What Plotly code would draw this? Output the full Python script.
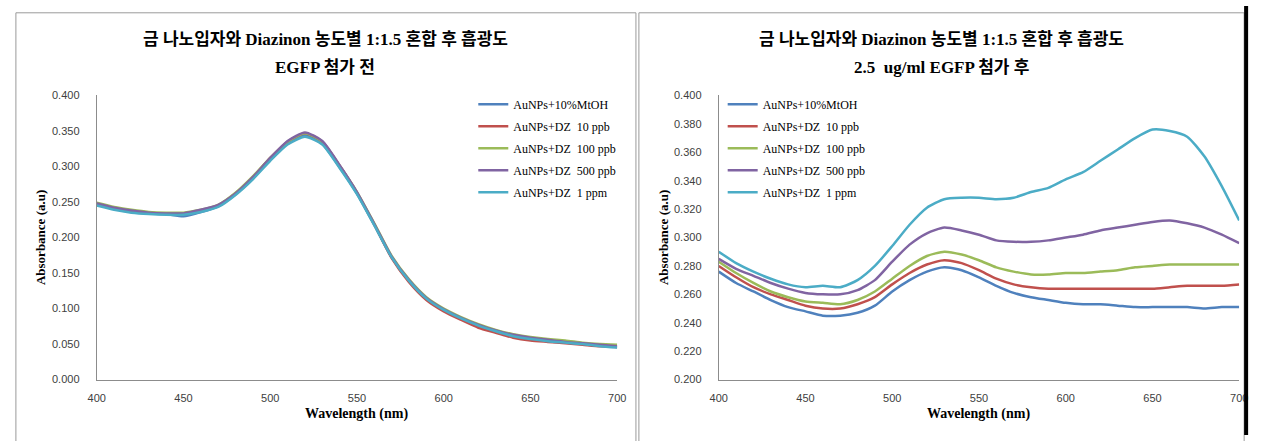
import plotly.graph_objects as go

W, H = 1263, 441

# Wavelength grid (nm)
wavelength = list(range(400, 701, 10))

series_names = [
    "AuNPs+10%MtOH",
    "AuNPs+DZ  10 ppb",
    "AuNPs+DZ  100 ppb",
    "AuNPs+DZ  500 ppb",
    "AuNPs+DZ  1 ppm",
]
series_colors = ["#4F81BD", "#C0504D", "#9BBB59", "#8064A2", "#4BACC6"]

# Absorbance before EGFP addition
before_mtoh = [0.246, 0.240, 0.236, 0.234, 0.233, 0.230, 0.236, 0.244, 0.261, 0.283, 0.310,
               0.333, 0.344, 0.332, 0.299, 0.262, 0.218, 0.172, 0.139, 0.114, 0.098,
               0.086, 0.076, 0.068, 0.061, 0.057, 0.054, 0.052, 0.050, 0.048, 0.046]
before_10ppb = [0.247, 0.241, 0.237, 0.235, 0.234, 0.234, 0.238, 0.245, 0.262, 0.285, 0.312,
                0.335, 0.347, 0.335, 0.301, 0.263, 0.218, 0.171, 0.137, 0.112, 0.096,
                0.084, 0.073, 0.066, 0.059, 0.055, 0.053, 0.051, 0.049, 0.047, 0.046]
before_100ppb = [0.249, 0.243, 0.239, 0.236, 0.235, 0.235, 0.239, 0.246, 0.263, 0.286, 0.312,
                 0.335, 0.347, 0.335, 0.301, 0.264, 0.220, 0.174, 0.141, 0.116, 0.100,
                 0.088, 0.078, 0.070, 0.064, 0.060, 0.057, 0.055, 0.052, 0.050, 0.049]
before_500ppb = [0.248, 0.242, 0.238, 0.235, 0.234, 0.234, 0.239, 0.246, 0.262, 0.285, 0.312,
                 0.336, 0.348, 0.336, 0.302, 0.264, 0.219, 0.173, 0.140, 0.115, 0.099,
                 0.087, 0.077, 0.069, 0.063, 0.059, 0.056, 0.053, 0.051, 0.049, 0.047]
before_1ppm = [0.245, 0.239, 0.235, 0.233, 0.232, 0.232, 0.236, 0.243, 0.260, 0.282, 0.308,
               0.331, 0.342, 0.331, 0.298, 0.261, 0.217, 0.172, 0.139, 0.114, 0.098,
               0.086, 0.076, 0.068, 0.061, 0.057, 0.054, 0.052, 0.050, 0.047, 0.045]

# Absorbance after adding 2.5 ug/ml EGFP
after_mtoh = [0.276, 0.268, 0.262, 0.256, 0.251, 0.248, 0.245, 0.245, 0.247, 0.252, 0.262,
              0.270, 0.276, 0.279, 0.277, 0.272, 0.266, 0.261, 0.258, 0.256, 0.254,
              0.253, 0.253, 0.252, 0.251, 0.251, 0.251, 0.251, 0.250, 0.251, 0.251]
after_10ppb = [0.280, 0.272, 0.265, 0.260, 0.256, 0.252, 0.250, 0.250, 0.253, 0.258, 0.267,
               0.275, 0.281, 0.284, 0.282, 0.277, 0.271, 0.267, 0.265, 0.264, 0.264,
               0.264, 0.264, 0.264, 0.264, 0.264, 0.265, 0.266, 0.266, 0.266, 0.267]
after_100ppb = [0.283, 0.275, 0.268, 0.262, 0.258, 0.255, 0.254, 0.253, 0.256, 0.262, 0.271,
                0.280, 0.287, 0.290, 0.288, 0.284, 0.279, 0.276, 0.274, 0.274, 0.275,
                0.275, 0.276, 0.277, 0.279, 0.280, 0.281, 0.281, 0.281, 0.281, 0.281]
after_500ppb = [0.285, 0.278, 0.273, 0.268, 0.264, 0.261, 0.260, 0.260, 0.263, 0.270, 0.283,
                0.295, 0.303, 0.307, 0.305, 0.302, 0.298, 0.297, 0.297, 0.298, 0.300,
                0.302, 0.305, 0.307, 0.309, 0.311, 0.312, 0.310, 0.307, 0.302, 0.296]
after_1ppm = [0.290, 0.282, 0.276, 0.271, 0.267, 0.265, 0.266, 0.265, 0.270, 0.280, 0.294,
              0.309, 0.321, 0.327, 0.328, 0.328, 0.327, 0.328, 0.332, 0.335, 0.341,
              0.346, 0.354, 0.362, 0.370, 0.376, 0.375, 0.371, 0.357, 0.336, 0.312]

before = [before_mtoh, before_10ppb, before_100ppb, before_500ppb, before_1ppm]
after = [after_mtoh, after_10ppb, after_100ppb, after_500ppb, after_1ppm]

title_line1 = "금 나노입자와 Diazinon 농도별 1:1.5 혼합 후 흡광도"
left_line2 = "EGFP 첨가 전"
right_line2 = "2.5  ug/ml EGFP 첨가 후"


def px_x(p):
    return p / W


def px_y(p):
    return 1 - p / H


fig = go.Figure()

for name, color, ys in zip(series_names, series_colors, before):
    fig.add_trace(go.Scatter(
        x=wavelength, y=ys, name=name, mode="lines",
        line=dict(color=color, width=2.5, shape="spline", smoothing=0.6),
        xaxis="x", yaxis="y", legend="legend", legendgroup="L" + name,
    ))

for name, color, ys in zip(series_names, series_colors, after):
    fig.add_trace(go.Scatter(
        x=wavelength, y=ys, name=name, mode="lines",
        line=dict(color=color, width=2.5, shape="spline", smoothing=0.6),
        xaxis="x2", yaxis="y2", legend="legend2", legendgroup="R" + name,
    ))

tick_font = dict(family="Liberation Sans, Arial, sans-serif", size=11, color="#404040")
serif = "Liberation Serif, Times New Roman, serif"
title_font = "Liberation Serif, Noto Sans CJK KR, serif"

plot_top, plot_bottom = 92, 384
ydom = [px_y(plot_bottom), px_y(plot_top)]

xaxis_common = dict(
    range=[400, 700], dtick=50, tick0=400, showgrid=False, zeroline=False,
    showline=True, linecolor="#8c8c8c", linewidth=1, ticks="", tickfont=tick_font,
    ticklabelstandoff=8,
)
yaxis_common = dict(
    showgrid=False, zeroline=False, showline=True, linecolor="#8c8c8c", linewidth=1,
    ticks="", tickfont=tick_font, tickformat=".3f", ticklabelstandoff=14,
)

legend_common = dict(
    font=dict(family=serif, size=12, color="#000000"),
    bgcolor="rgba(0,0,0,0)", borderwidth=0, tracegroupgap=3,
    itemwidth=30, xanchor="left", yanchor="top",
)

fig.update_layout(
    width=W, height=H,
    margin=dict(l=0, r=0, t=0, b=0),
    paper_bgcolor="white", plot_bgcolor="white",
    xaxis=dict(domain=[px_x(89), px_x(617)], anchor="y", **xaxis_common),
    yaxis=dict(domain=ydom, anchor="x", range=[0, 0.4], dtick=0.05, **yaxis_common),
    xaxis2=dict(domain=[px_x(720), px_x(1248)], anchor="y2", **xaxis_common),
    yaxis2=dict(domain=ydom, anchor="x2", range=[0.2, 0.4], dtick=0.02, **yaxis_common),
    legend=dict(x=px_x(471), y=px_y(86), **legend_common),
    legend2=dict(x=px_x(724), y=px_y(86), **legend_common),
    showlegend=True,
)

# Panel frames
fig.add_shape(type="rect", xref="paper", yref="paper",
              x0=px_x(7), x1=px_x(636), y0=-0.2, y1=px_y(7),
              line=dict(color="#9a9a9a", width=1), layer="below")
fig.add_shape(type="rect", xref="paper", yref="paper",
              x0=px_x(639), x1=px_x(1253), y0=-0.2, y1=px_y(7),
              line=dict(color="#9a9a9a", width=1), layer="below")
fig.add_shape(type="line", xref="paper", yref="paper",
              x0=px_x(1255), x1=px_x(1255), y0=0, y1=1,
              line=dict(color="#000000", width=4))

# Chart titles (two lines each)
title_style = dict(family=title_font, size=17, color="#000000", weight="bold")
for cx, line2 in [(321, left_line2), (946, right_line2)]:
    fig.add_annotation(
        text=title_line1, x=px_x(cx), y=px_y(34), xref="paper", yref="paper",
        xanchor="center", yanchor="middle", showarrow=False, font=title_style,
    )
    fig.add_annotation(
        text=line2, x=px_x(cx), y=px_y(63), xref="paper", yref="paper",
        xanchor="center", yanchor="middle", showarrow=False, font=title_style,
    )

# Axis titles
for cx, cy in [(32, 238), (664, 238)]:
    fig.add_annotation(
        text="Absorbance (a.u)", x=px_x(cx), y=px_y(cy), xref="paper", yref="paper",
        xanchor="center", yanchor="middle", textangle=-90, showarrow=False,
        font=dict(family=serif, size=13, color="#000000", weight="bold"),
    )
for cx in [353, 984]:
    fig.add_annotation(
        text="Wavelength (nm)", x=px_x(cx), y=px_y(419), xref="paper", yref="paper",
        xanchor="center", yanchor="middle", showarrow=False,
        font=dict(family=serif, size=14, color="#000000", weight="bold"),
    )

fig.write_html("out.html")
